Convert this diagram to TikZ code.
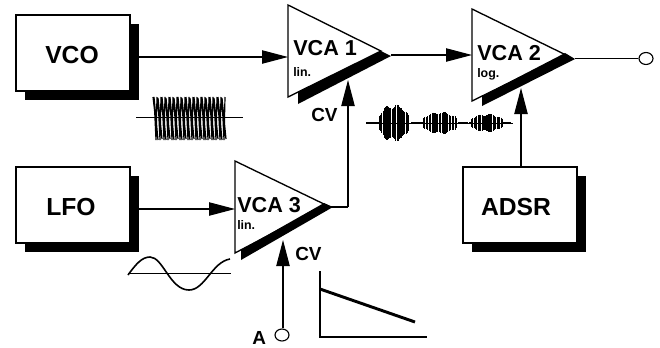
\documentclass[tikz,border=0pt]{standalone}
\usepackage{fontspec}
\setmainfont{Liberation Sans}
\usetikzlibrary{arrows.meta,shadows,shapes.geometric}
\tikzset{
  x=0.75pt,y=-0.75pt,
  modbox/.style={draw=black,line width=1pt,fill=white,minimum width=85.5pt,minimum height=57pt,inner sep=0pt,
     general shadow={fill=black,shadow xshift=6.75pt,shadow yshift=-6.75pt}},
  boxlabel/.style={font=\bfseries\fontsize{18.5pt}{20pt}\selectfont,anchor=base,inner sep=0pt},
  vcalabel/.style={font=\bfseries\fontsize{16.2pt}{18pt}\selectfont,anchor=base west,inner sep=0pt},
  smalllabel/.style={font=\bfseries\fontsize{9.3pt}{11pt}\selectfont,anchor=base west,inner sep=0pt},
  cvlabel/.style={font=\bfseries\fontsize{14.2pt}{16pt}\selectfont,anchor=base west,inner sep=0pt},
  amp/.style={draw=black,line width=1pt,fill=white,line join=miter},
  band/.style={fill=black,draw=none},
  wire/.style={draw=black,line width=0.85pt},
  sig/.style={wire,-{Triangle[length=19.5pt,width=10pt]}},
  port/.style={draw=black,line width=0.85pt,fill=white,ellipse,minimum width=10.5pt,minimum height=9pt,inner sep=0pt},
  trace/.style={draw=black,line width=0.75pt},
}
\begin{document}
\begin{tikzpicture}
\useasboundingbox (0,0) rectangle (660,347);
% boxes
\node[modbox] (vco) at (73,53) {};
\node[boxlabel] (vcot) at (72,63) {VCO};
\node[modbox] (lfo) at (73,205) {};
\node[boxlabel] (lfot) at (71,215) {LFO};
\node[modbox] (adsr) at (520,205) {};
\node[boxlabel] (adsrt) at (516,215) {ADSR};
% amplifiers
\draw[amp] (288,5) -- (381,51) -- (288,97) -- cycle;
\fill[band] (298,92) -- (298,104) -- (391,56) -- (381,51) -- cycle;
\draw[amp] (472,9) -- (566,55) -- (472,101) -- cycle;
\fill[band] (482,96) -- (482,106) -- (575,59) -- (565,53) -- cycle;
\draw[amp] (235,161) -- (326,205) -- (235,253) -- cycle;
\fill[band] (241,250) -- (241,260) -- (333,207) -- (324,203) -- cycle;
\coordinate (a1in) at (288,57);
\coordinate (a1out) at (391,55);
\coordinate (a2in) at (472,55);
\coordinate (a2out) at (575,58.5);
\coordinate (a3in) at (235,209);
\coordinate (a3out) at (331,207);
\coordinate (a1cv) at (348,80);
\coordinate (a3cv) at (283,240);
\coordinate (a2cv) at (521,88);
\coordinate (bend) at (348,207);
\coordinate (vcoout) at (139,57);
\coordinate (lfoout) at (139,209);
\node[vcalabel] (l1) at (293,55) {VCA 1};
\node[smalllabel] (s1) at (293,76) {lin.};
\node[vcalabel] (l2) at (477,60) {VCA 2};
\node[smalllabel] (s2) at (477,77) {log.};
\node[vcalabel] (l3) at (237,212) {VCA 3};
\node[smalllabel] (s3) at (237,229) {lin.};
\node[cvlabel] (cv1) at (311,121) {CV};
\node[cvlabel] (cv3) at (295,260) {CV};
\node[cvlabel] (atxt) at (252,344) {A};
\node[port] (outp) at (646,58.5) {};
\node[port] (ap) at (282,335) {};
% connectors
\draw[sig] (vcoout) -- (a1in);
\draw[sig] (lfoout) -- (a3in);
\draw[sig] (a1out) -- (a2in);
\draw[wire] (a2out) -- (outp.west);
\draw[wire] (a3out) -- (bend);
\draw[sig] (bend) -- (a1cv);
\draw[sig] (adsr.north) ++(1,0) -- (a2cv);
\draw[sig] (ap.north) ++(1,0) -- (a3cv);
% VCO trace
\draw[trace] (136,117) -- (243,117);
\draw[trace,line width=0.9pt]
  \foreach \i in {0,...,17} { ({153+\i*4},{97+mod(\i,3)}) -- ({153+\i*4+5},{140-mod(\i,2)}) -- ({153+\i*4+1},{97+mod(\i,2)}) -- ({153+\i*4+3},140) -- ({153+\i*4+4},97) };
% LFO trace
\draw[trace] (128,273) -- (231,273);
\draw[trace,line width=1.2pt] (128,275) .. controls (136,264) and (142,257) .. (150,257)
  .. controls (163,257) and (170,290) .. (189,290)
  .. controls (205,290) and (212,262) .. (230,259);
% ADSR envelope trace
\coordinate (et) at (320,271);
\coordinate (eo) at (320,337);
\coordinate (ee) at (427,337);
\draw[trace,line width=1pt] (et) -- (eo) -- (ee);
\draw[black,line width=2.2pt] (320,289) -- (415,322);
% VCA output trace
\draw[trace] (367,123) -- (513,123);
\foreach \c/\w/\h in {394/16/17.5, 440/18/10, 487/17/8}{
  \foreach \d in {-1,-0.92,...,1}{
    \pgfmathsetmacro{\xx}{\c+\d*\w}
    \pgfmathsetmacro{\aa}{\h*sqrt(max(0,1-\d*\d))*(0.88+0.12*sin(mod(\xx*31,360)))+1.2}
    \draw[black,line width=0.85pt] (\xx,123-\aa) -- (\xx,123+\aa);
  }
}
\foreach \c/\w in {373/7, 417/6, 463/5, 506/5}{
  \draw[black,line width=2pt] (\c-\w,123) -- (\c+\w,123);
}
\end{tikzpicture}
\end{document}
